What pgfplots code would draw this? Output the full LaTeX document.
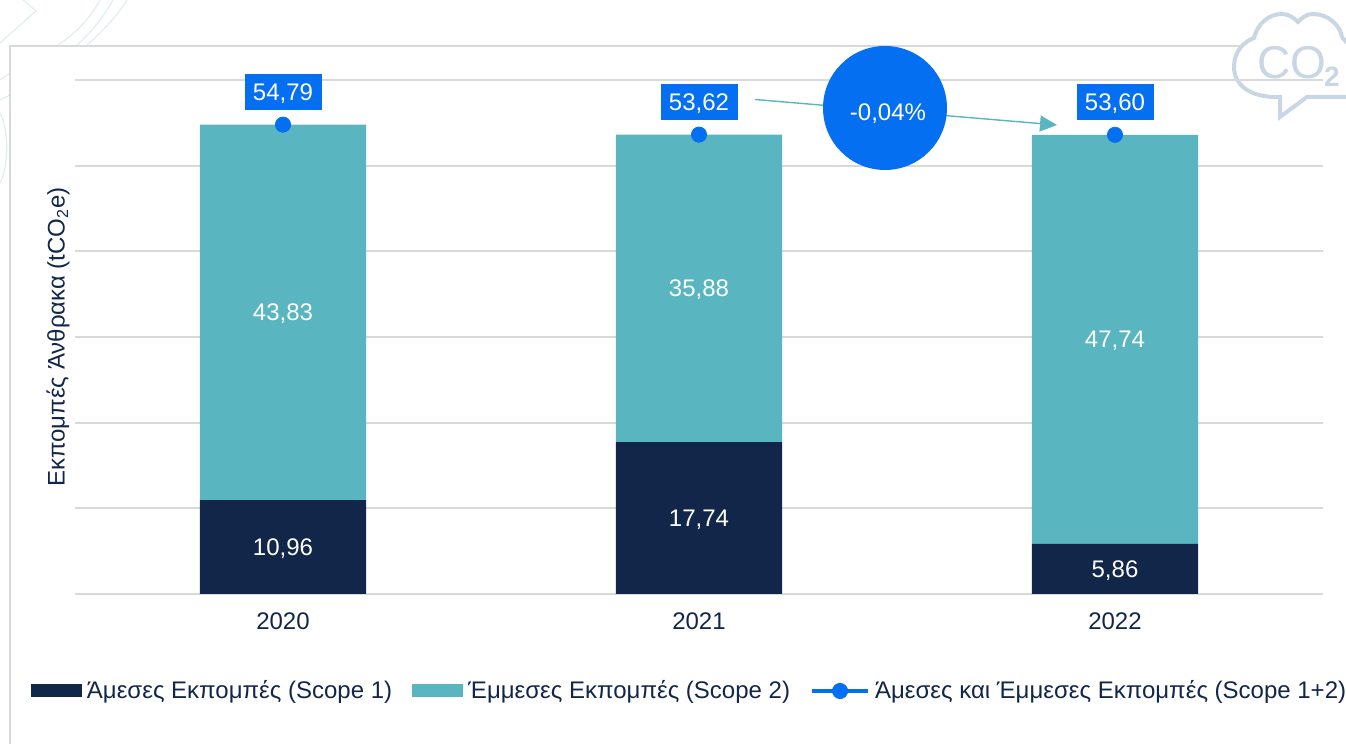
\documentclass[border=0pt]{standalone}
\usepackage{fontspec}
\setmainfont{Liberation Sans}
\usepackage{pgfplots}
\pgfplotsset{compat=1.18}
\usetikzlibrary{arrows.meta}
\definecolor{navy}{RGB}{18,38,74}
\definecolor{teal2}{RGB}{89,181,192}
\definecolor{blue2}{RGB}{5,111,242}
\definecolor{gridgray}{RGB}{217,217,217}
\definecolor{cloud}{RGB}{201,214,227}
\definecolor{motif}{RGB}{226,237,239}
\begin{document}
\begin{tikzpicture}
  \useasboundingbox (0,0) rectangle (673pt,372pt);
  % background, coordinates in reference pixels from the top left
  \begin{scope}[x=0.5pt,y=-0.5pt,yshift=372pt]
    \clip (0,0) rectangle (1346,744);
    \draw[motif,line width=0.6pt] (0,43) -- (36,11) -- (23,0);
    \draw[motif,line width=0.6pt] (58,45) .. controls (78,32) and (92,15) .. (100,0);
    \draw[motif,line width=0.6pt] (77,45) .. controls (92,32) and (105,15) .. (113,0);
    \draw[motif,line width=0.6pt] (87,45) .. controls (102,32) and (118,15) .. (127,0);
    \draw[motif,line width=0.6pt] (0,80) -- (10,73);
    \draw[motif,line width=0.6pt] (0,100) -- (10,95);
    \draw[motif,line width=0.6pt] (0,113) .. controls (9,130) and (9,165) .. (0,183);
    \draw[gridgray,line width=0.8pt] (10,744) -- (10,46) -- (1346,46);
    \draw[cloud,line width=2pt,fill=white] (1280,117) -- (1280,97)
      .. controls (1250,98) and (1234,85) .. (1234,67)
      .. controls (1234,52) and (1243,42) .. (1254,38)
      .. controls (1258,22) and (1270,14) .. (1282,14)
      .. controls (1289,14) and (1294,18) .. (1298,22)
      .. controls (1302,18) and (1306,14) .. (1313,14)
      .. controls (1328,14) and (1340,25) .. (1342,37)
      .. controls (1344,40) and (1346,42) .. (1350,45)
      -- (1350,97) -- (1307,97) -- cycle;
    \node[text=cloud,font=\fontsize{23}{23}\selectfont] at (1292,63) {CO};
    \node[text=cloud,font=\fontsize{14}{14}\selectfont\bfseries] at (1332,77) {2};
  \end{scope}

  \begin{axis}[
    at={(37.5pt,75pt)}, anchor=south west,
    scale only axis, width=624pt, height=257pt,
    ybar stacked, bar width=83pt,
    xmin=-0.5, xmax=2.5, ymin=0, ymax=60,
    xtick={0,1,2}, xticklabels={2020,2021,2022},
    ytick={0,10,...,60}, yticklabels={},
    ymajorgrids, grid style={gridgray,line width=1pt},
    axis line style={draw=none}, major tick length=0pt,
    xticklabel style={text=navy,font=\fontsize{12}{12}\selectfont,yshift=-6pt},
    every axis y label/.style={at={(axis description cs:-0.0136,0.5)},rotate=90,anchor=center},
    ylabel={\textcolor{navy}{\fontsize{12}{12}\selectfont Εκπομπές Άνθρακα (tCO\textsubscript{2}e)}},
    nodes near coords,
    nodes near coords align={center},
    /pgf/number format/.cd, use comma, fixed, fixed zerofill, precision=2, assume math mode=true,
    /pgfplots/.cd,
    every node near coord/.append style={text=white,font=\fontsize{12}{12}\selectfont,
      text height=8.6pt,text depth=0pt},
    clip=false,
    legend columns=-1,
    legend style={at={(axis description cs:-0.0353,-0.1887)},anchor=west,draw=none,fill=none,
      inner sep=0pt,outer sep=0pt,nodes={inner sep=0pt},
      font=\fontsize{12}{12}\selectfont,text=navy,
      /tikz/every odd column/.append style={column sep=2.5pt},
      /tikz/every even column/.append style={column sep=10pt}},
  ]
    \addplot[fill=navy,draw=none,
      legend image code/.code={\fill[navy] (0pt,-3.25pt) rectangle (25.5pt,3.25pt);}]
      coordinates {(0,10.96) (1,17.74) (2,5.86)};
    \addlegendentry{Άμεσες Εκπομπές (Scope 1)}
    \addplot[fill=teal2,draw=none,
      legend image code/.code={\fill[teal2] (0pt,-3.25pt) rectangle (25.5pt,3.25pt);}]
      coordinates {(0,43.83) (1,35.88) (2,47.74)};
    \addlegendentry{Έμμεσες Εκπομπές (Scope 2)}
    \addlegendimage{legend image code/.code={
      \draw[blue2,line width=2pt] (0pt,0pt) -- (28pt,0pt);
      \fill[blue2] (14pt,0pt) circle (3.8pt);}}
    \addlegendentry{Άμεσες και Έμμεσες Εκπομπές (Scope 1+2)}
  \end{axis}

  \begin{axis}[
    at={(37.5pt,75pt)}, anchor=south west,
    scale only axis, width=624pt, height=257pt,
    xmin=-0.5, xmax=2.5, ymin=0, ymax=60,
    hide axis, clip=false,
    nodes near coords, nodes near coords align={center},
    /pgf/number format/.cd, use comma, fixed, fixed zerofill, precision=2, assume math mode=true,
    /pgfplots/.cd,
    every node near coord/.append style={fill=blue2,text=white,font=\fontsize{12}{12}\selectfont,
      minimum width=38.5pt,minimum height=18pt,inner sep=0pt,
      text height=8.6pt,text depth=0pt,yshift=16.5pt},
  ]
    \addplot[only marks,mark=*,mark size=3.8pt,blue2,mark options={draw=none,fill=blue2}]
      coordinates {(0,54.79) (1,53.62) (2,53.60)};
  \end{axis}

  \begin{scope}[x=0.5pt,y=-0.5pt,yshift=372pt]
    \draw[teal2,line width=0.7pt,-{Triangle[length=8.5pt,width=8pt]}] (755,99.5) -- (1057,125);
    \fill[blue2] (885,108) circle (62);
    \node[text=white,font=\fontsize{12}{12}\selectfont,text height=8.6pt,text depth=0pt] at (888,112) {-0,04\%};
  \end{scope}
\end{tikzpicture}
\end{document}
